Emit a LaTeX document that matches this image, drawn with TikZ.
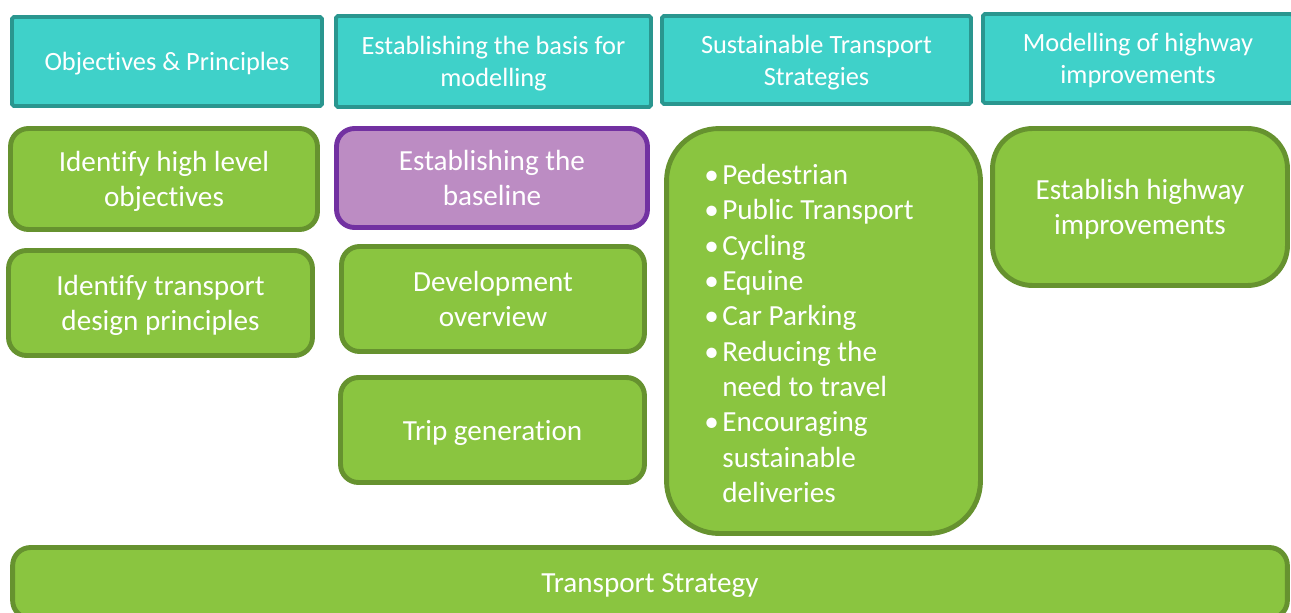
\documentclass[tikz,border=0pt]{standalone}
\usepackage{fontspec}
\setmainfont{Carlito}[Ligatures=NoCommon]
\usepackage{tikz}
\usetikzlibrary{positioning}

\definecolor{headfill}{HTML}{3FD1C9}
\definecolor{headline}{HTML}{2A968F}
\definecolor{taskfill}{HTML}{8AC540}
\definecolor{taskline}{HTML}{66922F}
\definecolor{basefill}{HTML}{BC8CC3}
\definecolor{purpline}{HTML}{7231A1}

% bullet and hanging indent for the strategies list
\newcommand{\bul}{\makebox[0.36cm][l]{\textbullet}}
\newcommand{\hang}{\hspace*{0.36cm}}

\begin{document}
\begin{tikzpicture}[x=0.02cm,y=-0.02cm]
        \tikzstyle{header}=[rectangle, rounded corners=1pt, fill=headfill,
            draw=headline, line width=2.2pt, text=white, align=center,
            font=\fontsize{15}{18.3}\selectfont, inner sep=0pt,
            text depth=-3.5pt]
        \tikzstyle{task}=[rectangle, rounded corners=0.36cm, fill=taskfill,
            draw=taskline, line width=2.8pt, text=white, align=center,
            font=\fontsize{16.6}{20.3}\selectfont, inner sep=0pt,
            text depth=-4pt]
        \tikzstyle{base}=[task, fill=basefill, draw=purpline]

            \clip (0,0) rectangle (1291,612);

            % column headers
            \node[header, minimum width=6.2cm, minimum height=1.78cm]
            (hobj) at (167,61.5) {Objectives \& Principles};
            \node[header, minimum width=6.3cm, minimum height=1.82cm]
            (hbasis) at (493.5,61.5) {Establishing the basis for\\modelling};
            \node[header, minimum width=6.18cm, minimum height=1.76cm]
            (hsust) at (816.5,60) {Sustainable Transport\\Strategies};
            \node[header, minimum width=6.2cm, minimum height=1.78cm]
            (hhigh) at (1138,58.5) {Modelling of highway\\improvements};

            % first column
            \node[task, minimum width=6.14cm, minimum height=2.02cm]
            (objectives) at (164,179) {Identify high level\\objectives};
            \node[task, minimum width=6.08cm, minimum height=2.1cm]
            (principles) at (160.5,303) {Identify transport\\design principles};

            % second column
            \node[base, minimum width=6.22cm, minimum height=1.98cm]
            (baseline) at (492,178) {Establishing the\\baseline};
            \node[task, minimum width=6.06cm, minimum height=2.1cm]
            (overview) at (493,299) {Development\\overview};
            \node[task, minimum width=6.08cm, minimum height=2.1cm]
            (trips) at (492.5,430) {Trip generation};

            % third column
            \node[task, rounded corners=1.05cm, minimum width=6.28cm,
            minimum height=8.1cm] (strategies) at (823.5,331) {};
            \node[anchor=west, text=white, align=left, inner sep=0pt,
            font=\fontsize{16.6}{20.1}\selectfont]
            (list) at (704,333.5) {%
                \bul Pedestrian\\%
                \bul Public Transport\\%
                \bul Cycling\\%
                \bul Equine\\%
                \bul Car Parking\\%
                \bul Reducing the\\%
                \hang need to travel\\%
                \bul Encouraging\\%
                \hang sustainable\\%
                \hang deliveries};

            % fourth column
            \node[task, rounded corners=0.8cm, minimum width=5.9cm,
            minimum height=3.14cm] (highway) at (1140,207)
            {Establish highway\\improvements};

            % bottom bar
            \node[task, minimum width=25.5cm, minimum height=1.42cm]
            (strategy) at (650,583) {Transport Strategy};
    \end{tikzpicture}
\end{document}
